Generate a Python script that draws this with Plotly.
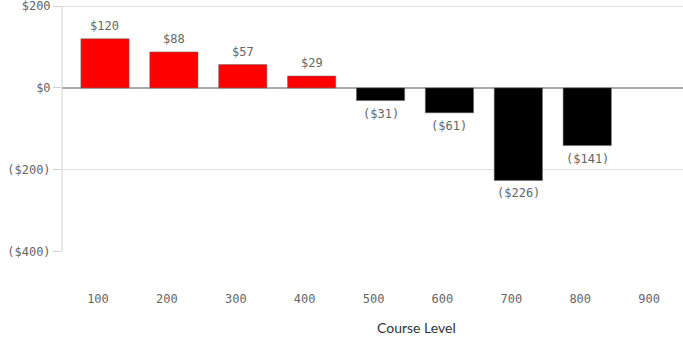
import plotly.graph_objects as go

# course levels and net values
levels = ["100", "200", "300", "400", "500", "600", "700", "800", "900"]
values = [120, 88, 57, 29, -31, -61, -226, -141, None]
tick_vals = [200, 0, -200, -400]
tick_text = ["$200", "$0", "($200)", "($400)"]


def money(v):
    return "${}".format(v) if v >= 0 else "(${})".format(-v)


colors = ["#ff0000" if (v is not None and v >= 0) else "#000000" for v in values]

mono = "DejaVu Sans Mono"

fig = go.Figure()
fig.add_trace(go.Bar(
    x=levels, y=values,
    marker=dict(color=colors, line=dict(color="#666666", width=0.5)),
    hoverinfo="skip",
))

# value labels above / below the bars (x given as category index)
notes = []
for i, v in enumerate(values):
    if v is None:
        continue
    notes.append(dict(
        x=i, y=v, xref="x", yref="y", text=money(v), showarrow=False,
        yanchor="bottom" if v >= 0 else "top", yshift=4 if v >= 0 else -4,
        font=dict(family=mono, size=12, color="#666666"),
    ))
notes.append(dict(
    text="Course Level", xref="paper", yref="paper",
    x=0.571, y=0, yshift=-75, showarrow=False,
    xanchor="center", yanchor="middle",
    font=dict(family="Lato", size=14, color="#333333"),
))

fig.update_layout(
    width=683, height=337,
    margin=dict(l=62, r=0, t=4, b=85),
    plot_bgcolor="white", paper_bgcolor="white",
    showlegend=False, bargap=0.3,
    xaxis=dict(
        type="category", range=[-0.624, 8.39], automargin=False,
        showgrid=False, showline=False, zeroline=False,
        ticks="outside", ticklen=36, tickcolor="rgba(0,0,0,0)",
        ticklabelshift=-7,
        tickfont=dict(family=mono, size=12, color="#666666"),
    ),
    yaxis=dict(
        range=[-401, 205], tickvals=tick_vals, ticktext=tick_text,
        automargin=False, ticklabeloverflow="allow",
        showgrid=True, gridcolor="#e2e2e2", gridwidth=1,
        zeroline=True, zerolinecolor="#aaaaaa", zerolinewidth=2,
        showline=False,
        ticks="outside", ticklen=8, tickcolor="#d0d0d0",
        tickfont=dict(family=mono, size=12, color="#666666"),
    ),
    shapes=[dict(
        type="line", xref="paper", yref="y", x0=0, x1=0, y0=-400, y1=200,
        line=dict(color="#d0d0d0", width=1),
    )],
    annotations=notes,
)

fig.write_html("out.html", config={"displayModeBar": False},
               post_script="document.body.style.margin='0';")
